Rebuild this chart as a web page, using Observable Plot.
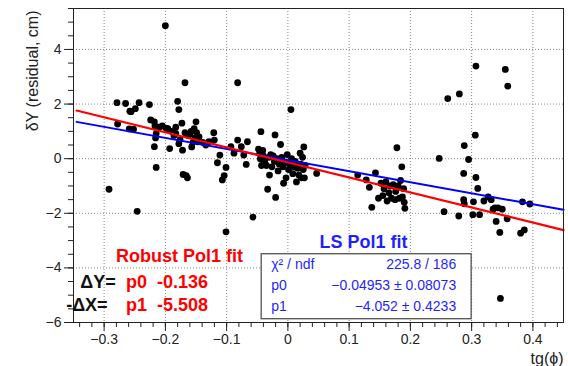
<!DOCTYPE html>
<html><head><meta charset="utf-8">
<script src="https://cdn.jsdelivr.net/npm/d3@7"></script>
<script src="https://cdn.jsdelivr.net/npm/@observablehq/plot@0.6"></script>
<style>body{margin:0;background:#fff;} svg{display:block}</style>
</head><body><div id="chart"></div>
<script>
// residual points [tg(phi), dY]
const residuals = [
[-0.292,-1.12],[-0.279,2.05],[-0.278,1.27],[-0.265,2.02],[-0.258,1.74],[-0.256,1.72],[-0.249,1.83],[-0.243,2.05],[-0.259,1.09],[-0.252,1.08],
[-0.246,-1.93],[-0.226,1.98],[-0.224,1.42],[-0.218,1.35],[-0.217,1.2],[-0.215,0.92],[-0.216,0.76],[-0.218,0.44],[-0.215,-0.32],[-0.210,1.15],
[-0.205,1.2],[-0.200,4.87],[-0.199,1.12],[-0.196,1.1],[-0.193,0.37],[-0.190,1.0],[-0.186,0.85],[-0.183,1.15],[-0.183,0.93],[-0.180,2.1],
[-0.178,1.8],[-0.178,0.55],[-0.176,0.7],[-0.173,1.3],[-0.172,0.31],[-0.171,-0.58],[-0.168,2.78],[-0.166,-0.62],[-0.164,-0.7],[-0.168,0.95],
[-0.163,0.85],[-0.160,0.9],[-0.158,1.0],[-0.157,0.43],[-0.155,0.6],[-0.153,1.1],[-0.152,0.75],[-0.150,1.35],[-0.149,0.95],[-0.147,0.62],[-0.145,0.8],
[-0.139,0.6],[-0.134,0.5],[-0.129,0.62],[-0.121,0.95],[-0.120,0.68],[-0.115,-0.15],[-0.111,0.13],[-0.107,-0.78],[-0.104,-0.62],[-0.101,-0.32],
[-0.101,-2.68],[-0.093,0.44],[-0.088,0.2],[-0.082,0.68],[-0.082,2.78],[-0.076,0.44],[-0.072,0.13],[-0.068,-0.21],[-0.066,0.62],[-0.057,-2.14],
[-0.048,0.35],[-0.046,0.2],[-0.045,0.0],[-0.044,0.99],[-0.043,-0.25],[-0.041,0.3],[-0.040,0.1],[-0.038,-0.1],[-0.035,-0.25],[-0.033,-1.12],
[-0.031,0.05],[-0.030,-0.6],[-0.028,0.15],[-0.026,-0.3],[-0.024,0.1],[-0.022,-0.1],[-0.021,0.87],[-0.020,-1.42],[-0.018,0.0],[-0.016,-0.45],
[-0.014,-0.2],[-0.012,0.52],[-0.010,0.05],[-0.008,-0.3],[-0.007,-0.9],[-0.005,-0.15],[-0.003,-0.7],[-0.001,0.15],[0.001,-0.4],[0.003,-0.2],
[0.005,1.8],[0.006,0.0],[0.008,-0.55],[0.010,-0.3],[0.012,-0.1],[0.014,-0.85],[0.016,-0.35],[0.018,-0.6],[0.020,0.2],[0.021,-0.2],
[0.022,-0.7],[0.024,0.05],[0.025,-0.4],[0.026,0.43],[0.027,-0.7],[0.028,-0.25],[0.047,-0.54],
[0.114,-0.6],[0.128,-0.78],[0.133,-1.05],[0.137,-1.78],[0.143,-0.52],[0.148,-1.45],[0.152,-0.9],[0.155,-1.35],[0.157,-1.1],[0.160,-0.85],
[0.162,-1.55],[0.165,-1.25],[0.167,-1.0],[0.169,-1.45],[0.172,-0.95],[0.175,-1.5],[0.176,-1.2],[0.178,0.4],[0.180,-1.0],[0.182,-1.45],
[0.184,-0.8],[0.186,-0.3],[0.187,-1.4],[0.189,-1.1],[0.191,-1.82],[0.190,-1.6],
[0.247,0.01],[0.255,-1.94],[0.261,2.2],[0.279,-2.1],[0.280,2.37],[0.288,0.48],[0.287,-0.54],[0.287,-1.5],[0.288,-1.65],[0.295,-0.03],
[0.303,-1.58],[0.302,-2.05],[0.306,0.86],[0.307,3.39],[0.307,-0.69],[0.310,-1.09],[0.313,-2.05],[0.320,-1.55],[0.327,-1.4],[0.332,-1.5],
[0.335,-1.85],[0.338,-1.8],[0.340,-2.3],[0.343,-1.8],[0.346,-2.7],[0.347,-5.12],[0.350,-1.85],[0.355,3.27],[0.358,-2.2],[0.359,2.66],
[0.380,-2.73],[0.383,-1.58],[0.386,-2.61],[0.395,-1.66]
];
// fit line end points
const fitX = [-0.345, 0.45];
const robustY = [1.764, -2.615];
const lsY = [1.348, -1.873];
// tick labels
const xTicks = [-0.3, -0.2, -0.1, 0, 0.1, 0.2, 0.3, 0.4];
const yTicks = [-6, -4, -2, 0, 2, 4];
const xMinor = d3.range(-34, 45, 2).map(d => d / 100);
const yMinor = d3.range(-12, 12).map(d => d / 2);
// annotation texts
const robustTitle = "Robust Pol1 fit";
const robustLabels = ["\u0394Y=", "-\u0394X="];
const robustValues = ["p0\u00a0\u00a0-0.136", "p1\u00a0\u00a0-5.508"];
const lsTitle = "LS Pol1 fit";
const statNames = ["\u03c7\u00b2 / ndf", "p0", "p1"];
const statValues = ["225.8 / 186", "\u22120.04953 \u00b1 0.08073", "\u22124.052 \u00b1 0.4233"];

const font = "'Liberation Sans', Arial, Helvetica, sans-serif";
const fmt = d => (d < 0 ? "\u2212" : "") + Math.abs(d);
const fitRobust = fitX.map((x, i) => ({x, y: robustY[i]}));
const fitLS = fitX.map((x, i) => ({x, y: lsY[i]}));
const blue = "#1f1fff";

const plot = Plot.plot({
  width: 568, height: 366,
  marginLeft: 73, marginRight: 5, marginTop: 8, marginBottom: 44,
  style: {fontFamily: font, fontSize: "14px", color: "#222", background: "#fff"},
  x: {domain: [-0.35, 0.45], label: null},
  y: {domain: [-6, 5.5], label: null},
  marks: [
    Plot.gridX(xTicks, {stroke: "#888", strokeOpacity: 1, strokeDasharray: "1,2"}),
    Plot.gridY(yTicks.filter(d => d > -6), {stroke: "#888", strokeOpacity: 1, strokeDasharray: "1,2"}),
    Plot.axisX(xMinor, {tickSize: 5, text: null, label: null, stroke: "#222"}),
    Plot.axisX(xTicks, {tickSize: 9, tickPadding: 3, tickFormat: fmt, label: null, stroke: "#222", fontSize: 14}),
    Plot.axisY(yMinor, {tickSize: 5, text: null, label: null, stroke: "#222"}),
    Plot.axisY(yTicks, {tickSize: 9, tickPadding: 3, tickFormat: fmt, label: null, stroke: "#222", fontSize: 14}),
    Plot.dot(residuals, {x: d => d[0], y: d => d[1], r: 3.4, fill: "black", stroke: null}),
    Plot.line(fitLS, {x: "x", y: "y", stroke: "#0000ff", strokeWidth: 2}),
    Plot.line(fitRobust, {x: "x", y: "y", stroke: "#ff0000", strokeWidth: 2.2}),
    Plot.frame({stroke: "#222"}),
    // axis titles
    Plot.text(["tg(\u03d5)"], {frameAnchor: "bottom-right", dy: 36, textAnchor: "end", lineAnchor: "middle", fontSize: 16, fill: "#222"}),
    Plot.text(["\u03b4Y (residual, cm)"], {frameAnchor: "top-left", dx: -41, dy: 2, rotate: -90, textAnchor: "end", lineAnchor: "middle", fontSize: 16, fill: "#222"}),
    // robust fit annotation
    Plot.text([robustTitle], {x: -0.2806, y: -3.57, textAnchor: "start", lineAnchor: "middle", fontSize: 18, fontWeight: "bold", fill: "#ff0000"}),
    Plot.text(robustLabels, {x: [-0.339, -0.362], y: [-4.52, -5.37], text: d => d, textAnchor: "start", lineAnchor: "middle", fontSize: 18, fontWeight: "bold", fill: "#111"}),
    Plot.text(robustValues, {x: -0.2643, y: [-4.52, -5.37], text: d => d, textAnchor: "start", lineAnchor: "middle", fontSize: 18, fontWeight: "bold", fill: "#ff0000"}),
    // LS fit annotation
    Plot.text([lsTitle], {x: 0.0516, y: -3.06, textAnchor: "start", lineAnchor: "middle", fontSize: 18, fontWeight: "bold", fill: blue}),
    Plot.rect([0], {x1: -0.0428, x2: 0.300, y1: -3.50, y2: -5.88, fill: "white", stroke: "#444", strokeWidth: 1.2}),
    Plot.text(statNames, {x: -0.0272, y: [-3.865, -4.63, -5.42], text: d => d, textAnchor: "start", lineAnchor: "middle", fontSize: 14, fill: blue}),
    Plot.text(statValues, {x: 0.2748, y: [-3.865, -4.63, -5.42], text: d => d, textAnchor: "end", lineAnchor: "middle", fontSize: 14, fill: blue})
  ]
});
document.getElementById("chart").appendChild(plot);
</script></body></html>
